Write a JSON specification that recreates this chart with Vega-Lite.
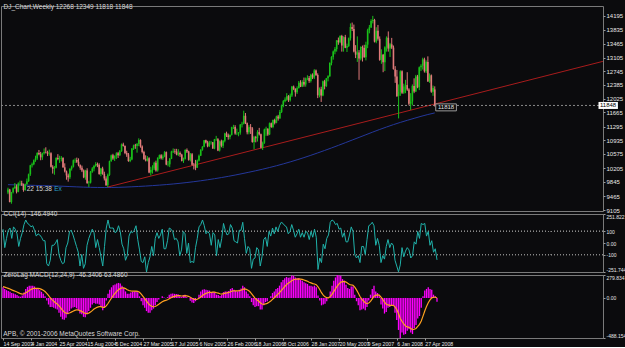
{
"$schema":"https://vega.github.io/schema/vega-lite/v6.json",
"background":"#0b0b0d",
"padding":{"left":0,"top":3,"right":0,"bottom":0},
"bounds":"flush",
"spacing":3,
"config":{
 "view":{"stroke":"#7a7a7a","strokeWidth":1},
 "axis":{"labelFont":"Liberation Sans Narrow, Liberation Sans, sans-serif","labelFontSize":6,"labelColor":"#e6e6e6","domain":false,"tickColor":"#9a9a9a","tickSize":2,"labelPadding":1,"grid":false,"title":null,"labelOverlap":false,"labelFlush":false,"labelBound":false,"tickCount":100},
 "title":{"font":"Liberation Sans Narrow, Liberation Sans, sans-serif","fontSize":6.5,"fontWeight":"normal","color":"#d8d8d8","anchor":"start","baseline":"top","offset":-4,"dx":3}
},
"datasets":{
"bars":[
{"d":"2003-09-14","o":9567,"h":9690,"l":9520,"c":9645,"k":120,"m":130,"s":138},
{"d":"2003-09-21","o":9645,"h":9660,"l":9305,"c":9313,"k":-40,"m":110,"s":132},
{"d":"2003-09-28","o":9313,"h":9580,"l":9270,"c":9572,"k":40,"m":95,"s":125},
{"d":"2003-10-05","o":9572,"h":9700,"l":9540,"c":9674,"k":110,"m":85,"s":117},
{"d":"2003-10-12","o":9674,"h":9812,"l":9660,"c":9721,"k":130,"m":75,"s":109},
{"d":"2003-10-19","o":9721,"h":9775,"l":9540,"c":9582,"k":40,"m":60,"s":99},
{"d":"2003-10-26","o":9582,"h":9830,"l":9570,"c":9801,"k":140,"m":55,"s":90},
{"d":"2003-11-02","o":9801,"h":9875,"l":9750,"c":9809,"k":120,"m":45,"s":81},
{"d":"2003-11-09","o":9809,"h":9872,"l":9735,"c":9768,"k":80,"m":35,"s":72},
{"d":"2003-11-16","o":9768,"h":9800,"l":9585,"c":9628,"k":-30,"m":20,"s":62},
{"d":"2003-11-23","o":9628,"h":9800,"l":9610,"c":9782,"k":40,"m":15,"s":52},
{"d":"2003-11-30","o":9782,"h":9930,"l":9770,"c":9862,"k":90,"m":30,"s":48},
{"d":"2003-12-07","o":9862,"h":10060,"l":9840,"c":10042,"k":160,"m":65,"s":51},
{"d":"2003-12-14","o":10042,"h":10290,"l":10000,"c":10278,"k":200,"m":110,"s":63},
{"d":"2003-12-21","o":10278,"h":10350,"l":10220,"c":10305,"k":170,"m":135,"s":77},
{"d":"2003-12-28","o":10305,"h":10430,"l":10280,"c":10409,"k":160,"m":150,"s":92},
{"d":"2004-01-04","o":10409,"h":10530,"l":10370,"c":10458,"k":140,"m":150,"s":103},
{"d":"2004-01-11","o":10458,"h":10620,"l":10420,"c":10600,"k":150,"m":150,"s":113},
{"d":"2004-01-18","o":10600,"h":10680,"l":10540,"c":10568,"k":110,"m":140,"s":118},
{"d":"2004-01-25","o":10568,"h":10630,"l":10410,"c":10488,"k":60,"m":120,"s":118},
{"d":"2004-02-01","o":10488,"h":10610,"l":10420,"c":10593,"k":80,"m":110,"s":117},
{"d":"2004-02-08","o":10593,"h":10720,"l":10560,"c":10628,"k":70,"m":95,"s":113},
{"d":"2004-02-15","o":10628,"h":10750,"l":10590,"c":10620,"k":50,"m":75,"s":105},
{"d":"2004-02-22","o":10620,"h":10660,"l":10520,"c":10584,"k":20,"m":50,"s":94},
{"d":"2004-02-29","o":10584,"h":10690,"l":10530,"c":10596,"k":20,"m":20,"s":79},
{"d":"2004-03-07","o":10596,"h":10620,"l":10220,"c":10240,"k":-180,"m":-30,"s":57},
{"d":"2004-03-14","o":10240,"h":10280,"l":10060,"c":10186,"k":-200,"m":-80,"s":30},
{"d":"2004-03-21","o":10186,"h":10260,"l":10030,"c":10212,"k":-150,"m":-110,"s":2},
{"d":"2004-03-28","o":10212,"h":10490,"l":10200,"c":10470,"k":-20,"m":-110,"s":-20},
{"d":"2004-04-04","o":10470,"h":10570,"l":10410,"c":10442,"k":-20,"m":-120,"s":-40},
{"d":"2004-04-11","o":10442,"h":10530,"l":10340,"c":10451,"k":0,"m":-130,"s":-58},
{"d":"2004-04-18","o":10451,"h":10520,"l":10380,"c":10472,"k":30,"m":-140,"s":-74},
{"d":"2004-04-25","o":10472,"h":10490,"l":10210,"c":10225,"k":-100,"m":-180,"s":-96},
{"d":"2004-05-02","o":10225,"h":10330,"l":10090,"c":10117,"k":-150,"m":-230,"s":-122},
{"d":"2004-05-09","o":10117,"h":10140,"l":9900,"c":10012,"k":-180,"m":-260,"s":-150},
{"d":"2004-05-16","o":10012,"h":10060,"l":9850,"c":9966,"k":-170,"m":-265,"s":-173},
{"d":"2004-05-23","o":9966,"h":10200,"l":9920,"c":10188,"k":-40,"m":-240,"s":-186},
{"d":"2004-05-30","o":10188,"h":10270,"l":10140,"c":10242,"k":0,"m":-200,"s":-189},
{"d":"2004-06-06","o":10242,"h":10430,"l":10220,"c":10410,"k":100,"m":-160,"s":-183},
{"d":"2004-06-13","o":10410,"h":10460,"l":10340,"c":10416,"k":110,"m":-130,"s":-173},
{"d":"2004-06-20","o":10416,"h":10480,"l":10340,"c":10371,"k":70,"m":-115,"s":-161},
{"d":"2004-06-27","o":10371,"h":10460,"l":10250,"c":10282,"k":20,"m":-110,"s":-151},
{"d":"2004-07-04","o":10282,"h":10300,"l":10160,"c":10213,"k":-30,"m":-125,"s":-146},
{"d":"2004-07-11","o":10213,"h":10270,"l":10100,"c":10140,"k":-80,"m":-150,"s":-147},
{"d":"2004-07-18","o":10140,"h":10170,"l":9940,"c":9962,"k":-200,"m":-190,"s":-155},
{"d":"2004-07-25","o":9962,"h":10160,"l":9900,"c":10140,"k":-100,"m":-200,"s":-164},
{"d":"2004-08-01","o":10140,"h":10200,"l":9790,"c":9815,"k":-220,"m":-230,"s":-177},
{"d":"2004-08-08","o":9815,"h":9870,"l":9710,"c":9825,"k":-180,"m":-235,"s":-189},
{"d":"2004-08-15","o":9825,"h":10130,"l":9800,"c":10110,"k":-20,"m":-200,"s":-191},
{"d":"2004-08-22","o":10110,"h":10230,"l":10080,"c":10195,"k":40,"m":-160,"s":-185},
{"d":"2004-08-29","o":10195,"h":10290,"l":10120,"c":10260,"k":80,"m":-120,"s":-172},
{"d":"2004-09-05","o":10260,"h":10360,"l":10240,"c":10314,"k":120,"m":-80,"s":-154},
{"d":"2004-09-12","o":10314,"h":10350,"l":10230,"c":10284,"k":90,"m":-60,"s":-135},
{"d":"2004-09-19","o":10284,"h":10330,"l":10030,"c":10047,"k":-40,"m":-70,"s":-122},
{"d":"2004-09-26","o":10047,"h":10210,"l":9990,"c":10192,"k":30,"m":-70,"s":-112},
{"d":"2004-10-03","o":10192,"h":10240,"l":10030,"c":10055,"k":-40,"m":-80,"s":-105},
{"d":"2004-10-10","o":10055,"h":10110,"l":9880,"c":9933,"k":-120,"m":-110,"s":-106},
{"d":"2004-10-17","o":9933,"h":9990,"l":9740,"c":9757,"k":-200,"m":-150,"s":-115},
{"d":"2004-10-24","o":9757,"h":10060,"l":9708,"c":10027,"k":-30,"m":-110,"s":-114},
{"d":"2004-10-31","o":10027,"h":10400,"l":10000,"c":10387,"k":130,"m":-30,"s":-97},
{"d":"2004-11-07","o":10387,"h":10560,"l":10370,"c":10539,"k":200,"m":50,"s":-68},
{"d":"2004-11-14","o":10539,"h":10580,"l":10420,"c":10456,"k":130,"m":100,"s":-34},
{"d":"2004-11-21","o":10456,"h":10540,"l":10390,"c":10522,"k":130,"m":130,"s":-1},
{"d":"2004-11-28","o":10522,"h":10620,"l":10440,"c":10592,"k":130,"m":155,"s":30},
{"d":"2004-12-05","o":10592,"h":10630,"l":10470,"c":10543,"k":90,"m":165,"s":57},
{"d":"2004-12-12","o":10543,"h":10680,"l":10520,"c":10649,"k":100,"m":175,"s":81},
{"d":"2004-12-19","o":10649,"h":10850,"l":10630,"c":10827,"k":150,"m":183,"s":101},
{"d":"2004-12-26","o":10827,"h":10870,"l":10770,"c":10783,"k":100,"m":175,"s":116},
{"d":"2005-01-02","o":10783,"h":10800,"l":10570,"c":10603,"k":-10,"m":150,"s":123},
{"d":"2005-01-09","o":10603,"h":10660,"l":10500,"c":10558,"k":-50,"m":120,"s":122},
{"d":"2005-01-16","o":10558,"h":10600,"l":10370,"c":10392,"k":-150,"m":80,"s":114},
{"d":"2005-01-23","o":10392,"h":10500,"l":10360,"c":10427,"k":-110,"m":50,"s":101},
{"d":"2005-01-30","o":10427,"h":10730,"l":10410,"c":10716,"k":60,"m":50,"s":91},
{"d":"2005-02-06","o":10716,"h":10820,"l":10680,"c":10796,"k":100,"m":65,"s":86},
{"d":"2005-02-13","o":10796,"h":10840,"l":10710,"c":10785,"k":90,"m":75,"s":84},
{"d":"2005-02-20","o":10785,"h":10860,"l":10610,"c":10841,"k":110,"m":80,"s":83},
{"d":"2005-02-27","o":10841,"h":10985,"l":10780,"c":10940,"k":150,"m":85,"s":83},
{"d":"2005-03-06","o":10940,"h":10960,"l":10740,"c":10774,"k":30,"m":70,"s":81},
{"d":"2005-03-13","o":10774,"h":10800,"l":10590,"c":10629,"k":-60,"m":20,"s":69},
{"d":"2005-03-20","o":10629,"h":10660,"l":10420,"c":10442,"k":-160,"m":-40,"s":47},
{"d":"2005-03-27","o":10442,"h":10540,"l":10380,"c":10404,"k":-170,"m":-90,"s":20},
{"d":"2005-04-03","o":10404,"h":10520,"l":10380,"c":10461,"k":-120,"m":-120,"s":-8},
{"d":"2005-04-10","o":10461,"h":10490,"l":10070,"c":10087,"k":-251.7,"m":-160,"s":-38},
{"d":"2005-04-17","o":10087,"h":10240,"l":10010,"c":10157,"k":-170,"m":-180,"s":-66},
{"d":"2005-04-24","o":10157,"h":10280,"l":10060,"c":10193,"k":-120,"m":-180,"s":-89},
{"d":"2005-05-01","o":10193,"h":10370,"l":10150,"c":10345,"k":-30,"m":-150,"s":-101},
{"d":"2005-05-08","o":10345,"h":10400,"l":10110,"c":10140,"k":-110,"m":-130,"s":-107},
{"d":"2005-05-15","o":10140,"h":10490,"l":10110,"c":10471,"k":40,"m":-90,"s":-104},
{"d":"2005-05-22","o":10471,"h":10560,"l":10440,"c":10542,"k":90,"m":-50,"s":-93},
{"d":"2005-05-29","o":10542,"h":10570,"l":10430,"c":10460,"k":40,"m":-20,"s":-78},
{"d":"2005-06-05","o":10460,"h":10560,"l":10420,"c":10512,"k":70,"m":0,"s":-62},
{"d":"2005-06-12","o":10512,"h":10650,"l":10490,"c":10623,"k":120,"m":20,"s":-46},
{"d":"2005-06-19","o":10623,"h":10640,"l":10280,"c":10297,"k":-50,"m":5,"s":-36},
{"d":"2005-06-26","o":10297,"h":10390,"l":10250,"c":10303,"k":-50,"m":-5,"s":-30},
{"d":"2005-07-03","o":10303,"h":10470,"l":10230,"c":10449,"k":20,"m":10,"s":-22},
{"d":"2005-07-10","o":10449,"h":10660,"l":10440,"c":10640,"k":130,"m":40,"s":-10},
{"d":"2005-07-17","o":10640,"h":10720,"l":10600,"c":10651,"k":120,"m":50,"s":2},
{"d":"2005-07-24","o":10651,"h":10710,"l":10580,"c":10641,"k":100,"m":55,"s":13},
{"d":"2005-07-31","o":10641,"h":10710,"l":10540,"c":10558,"k":30,"m":50,"s":20},
{"d":"2005-08-07","o":10558,"h":10700,"l":10520,"c":10600,"k":40,"m":48,"s":26},
{"d":"2005-08-14","o":10600,"h":10640,"l":10500,"c":10559,"k":10,"m":45,"s":30},
{"d":"2005-08-21","o":10559,"h":10580,"l":10380,"c":10397,"k":-110,"m":20,"s":28},
{"d":"2005-08-28","o":10397,"h":10480,"l":10340,"c":10447,"k":-60,"m":10,"s":24},
{"d":"2005-09-04","o":10447,"h":10700,"l":10430,"c":10679,"k":100,"m":35,"s":26},
{"d":"2005-09-11","o":10679,"h":10720,"l":10600,"c":10641,"k":80,"m":40,"s":29},
{"d":"2005-09-18","o":10641,"h":10660,"l":10400,"c":10420,"k":-90,"m":10,"s":25},
{"d":"2005-09-25","o":10420,"h":10600,"l":10380,"c":10569,"k":0,"m":0,"s":20},
{"d":"2005-10-02","o":10569,"h":10600,"l":10270,"c":10292,"k":-170,"m":-35,"s":9},
{"d":"2005-10-09","o":10292,"h":10340,"l":10170,"c":10287,"k":-160,"m":-55,"s":-4},
{"d":"2005-10-16","o":10287,"h":10420,"l":10150,"c":10215,"k":-170,"m":-60,"s":-15},
{"d":"2005-10-23","o":10215,"h":10430,"l":10210,"c":10402,"k":-40,"m":-40,"s":-20},
{"d":"2005-10-30","o":10402,"h":10560,"l":10380,"c":10530,"k":40,"m":0,"s":-16},
{"d":"2005-11-06","o":10530,"h":10700,"l":10520,"c":10686,"k":140,"m":40,"s":-5},
{"d":"2005-11-13","o":10686,"h":10780,"l":10660,"c":10766,"k":160,"m":80,"s":12},
{"d":"2005-11-20","o":10766,"h":10940,"l":10750,"c":10932,"k":200,"m":100,"s":30},
{"d":"2005-11-27","o":10932,"h":10950,"l":10850,"c":10877,"k":150,"m":105,"s":45},
{"d":"2005-12-04","o":10877,"h":10920,"l":10750,"c":10778,"k":80,"m":100,"s":56},
{"d":"2005-12-11","o":10778,"h":10920,"l":10760,"c":10875,"k":100,"m":95,"s":64},
{"d":"2005-12-18","o":10875,"h":10920,"l":10820,"c":10883,"k":80,"m":90,"s":69},
{"d":"2005-12-25","o":10883,"h":10890,"l":10710,"c":10718,"k":-20,"m":70,"s":69},
{"d":"2006-01-01","o":10718,"h":10970,"l":10700,"c":10959,"k":90,"m":75,"s":70},
{"d":"2006-01-08","o":10955,"h":11050,"l":10920,"c":10959,"k":70,"m":70,"s":70},
{"d":"2006-01-15","o":10959,"h":10990,"l":10650,"c":10667,"k":-110,"m":40,"s":64},
{"d":"2006-01-22","o":10667,"h":10930,"l":10640,"c":10907,"k":30,"m":35,"s":58},
{"d":"2006-01-29","o":10907,"h":10950,"l":10750,"c":10793,"k":-40,"m":25,"s":51},
{"d":"2006-02-05","o":10793,"h":10940,"l":10730,"c":10919,"k":40,"m":35,"s":48},
{"d":"2006-02-12","o":10919,"h":11130,"l":10880,"c":11115,"k":170,"m":70,"s":52},
{"d":"2006-02-19","o":11115,"h":11160,"l":11020,"c":11061,"k":110,"m":80,"s":58},
{"d":"2006-02-26","o":11061,"h":11110,"l":10950,"c":11021,"k":70,"m":80,"s":62},
{"d":"2006-03-05","o":11021,"h":11090,"l":10960,"c":11076,"k":80,"m":85,"s":67},
{"d":"2006-03-12","o":11076,"h":11290,"l":11060,"c":11279,"k":160,"m":110,"s":76},
{"d":"2006-03-19","o":11279,"h":11340,"l":11230,"c":11280,"k":130,"m":120,"s":85},
{"d":"2006-03-26","o":11280,"h":11330,"l":11080,"c":11109,"k":20,"m":100,"s":88},
{"d":"2006-04-02","o":11109,"h":11240,"l":11070,"c":11120,"k":10,"m":85,"s":87},
{"d":"2006-04-09","o":11120,"h":11150,"l":11040,"c":11137,"k":0,"m":80,"s":86},
{"d":"2006-04-16","o":11137,"h":11360,"l":11080,"c":11347,"k":110,"m":100,"s":89},
{"d":"2006-04-23","o":11347,"h":11420,"l":11270,"c":11367,"k":110,"m":115,"s":94},
{"d":"2006-04-30","o":11367,"h":11710,"l":11350,"c":11577,"k":180,"m":150,"s":105},
{"d":"2006-05-07","o":11577,"h":11650,"l":11360,"c":11380,"k":40,"m":130,"s":110},
{"d":"2006-05-14","o":11380,"h":11400,"l":11090,"c":11144,"k":-90,"m":80,"s":104},
{"d":"2006-05-21","o":11144,"h":11330,"l":11090,"c":11278,"k":-30,"m":50,"s":93},
{"d":"2006-05-28","o":11278,"h":11360,"l":11100,"c":11247,"k":-50,"m":20,"s":78},
{"d":"2006-06-04","o":11247,"h":11280,"l":10870,"c":10891,"k":-220,"m":-50,"s":52},
{"d":"2006-06-11","o":10891,"h":11050,"l":10700,"c":11014,"k":-140,"m":-90,"s":24},
{"d":"2006-06-18","o":11014,"h":11050,"l":10880,"c":10989,"k":-130,"m":-110,"s":-3},
{"d":"2006-06-25","o":10989,"h":11200,"l":10900,"c":11150,"k":-40,"m":-100,"s":-22},
{"d":"2006-07-02","o":11150,"h":11260,"l":11060,"c":11090,"k":-60,"m":-100,"s":-38},
{"d":"2006-07-09","o":11090,"h":11110,"l":10720,"c":10739,"k":-200,"m":-140,"s":-58},
{"d":"2006-07-16","o":10739,"h":10900,"l":10680,"c":10868,"k":-120,"m":-140,"s":-74},
{"d":"2006-07-23","o":10868,"h":11240,"l":10840,"c":11219,"k":30,"m":-90,"s":-77},
{"d":"2006-07-30","o":11219,"h":11290,"l":11050,"c":11240,"k":50,"m":-50,"s":-72},
{"d":"2006-08-06","o":11240,"h":11250,"l":11050,"c":11088,"k":-30,"m":-40,"s":-66},
{"d":"2006-08-13","o":11088,"h":11400,"l":11070,"c":11381,"k":100,"m":0,"s":-53},
{"d":"2006-08-20","o":11381,"h":11400,"l":11260,"c":11284,"k":60,"m":20,"s":-38},
{"d":"2006-08-27","o":11284,"h":11480,"l":11250,"c":11464,"k":130,"m":60,"s":-18},
{"d":"2006-09-03","o":11464,"h":11500,"l":11350,"c":11392,"k":80,"m":80,"s":2},
{"d":"2006-09-10","o":11392,"h":11580,"l":11380,"c":11560,"k":140,"m":110,"s":24},
{"d":"2006-09-17","o":11560,"h":11600,"l":11450,"c":11508,"k":100,"m":120,"s":43},
{"d":"2006-09-24","o":11508,"h":11730,"l":11500,"c":11679,"k":150,"m":150,"s":64},
{"d":"2006-10-01","o":11679,"h":11870,"l":11650,"c":11850,"k":180,"m":190,"s":89},
{"d":"2006-10-08","o":11850,"h":11990,"l":11800,"c":11960,"k":170,"m":220,"s":115},
{"d":"2006-10-15","o":11960,"h":12060,"l":11930,"c":12002,"k":150,"m":240,"s":140},
{"d":"2006-10-22","o":12002,"h":12170,"l":11970,"c":12090,"k":140,"m":255,"s":163},
{"d":"2006-10-29","o":12090,"h":12120,"l":11940,"c":11986,"k":80,"m":245,"s":179},
{"d":"2006-11-05","o":11986,"h":12160,"l":11950,"c":12108,"k":100,"m":250,"s":193},
{"d":"2006-11-12","o":12108,"h":12360,"l":12070,"c":12342,"k":160,"m":275,"s":210},
{"d":"2006-11-19","o":12342,"h":12370,"l":12250,"c":12280,"k":110,"m":270,"s":222},
{"d":"2006-11-26","o":12280,"h":12300,"l":12080,"c":12194,"k":50,"m":250,"s":228},
{"d":"2006-12-03","o":12194,"h":12350,"l":12150,"c":12307,"k":80,"m":240,"s":230},
{"d":"2006-12-10","o":12307,"h":12490,"l":12290,"c":12445,"k":120,"m":240,"s":232},
{"d":"2006-12-17","o":12445,"h":12510,"l":12330,"c":12343,"k":50,"m":220,"s":230},
{"d":"2006-12-24","o":12343,"h":12510,"l":12330,"c":12463,"k":90,"m":210,"s":226},
{"d":"2006-12-31","o":12463,"h":12580,"l":12340,"c":12398,"k":50,"m":190,"s":219},
{"d":"2007-01-07","o":12398,"h":12580,"l":12340,"c":12556,"k":100,"m":180,"s":211},
{"d":"2007-01-14","o":12556,"h":12640,"l":12510,"c":12565,"k":90,"m":170,"s":203},
{"d":"2007-01-21","o":12565,"h":12620,"l":12440,"c":12487,"k":30,"m":150,"s":192},
{"d":"2007-01-28","o":12487,"h":12680,"l":12450,"c":12653,"k":100,"m":150,"s":184},
{"d":"2007-02-04","o":12653,"h":12690,"l":12540,"c":12580,"k":50,"m":140,"s":175},
{"d":"2007-02-11","o":12580,"h":12800,"l":12540,"c":12767,"k":120,"m":150,"s":170},
{"d":"2007-02-18","o":12767,"h":12790,"l":12620,"c":12647,"k":50,"m":130,"s":162},
{"d":"2007-02-25","o":12647,"h":12690,"l":12040,"c":12114,"k":-230,"m":30,"s":136},
{"d":"2007-03-04","o":12114,"h":12320,"l":12060,"c":12276,"k":-130,"m":-30,"s":103},
{"d":"2007-03-11","o":12276,"h":12340,"l":11940,"c":12110,"k":-170,"m":-90,"s":64},
{"d":"2007-03-18","o":12110,"h":12500,"l":12090,"c":12481,"k":-10,"m":-80,"s":35},
{"d":"2007-03-25","o":12481,"h":12520,"l":12270,"c":12354,"k":-50,"m":-70,"s":14},
{"d":"2007-04-01","o":12354,"h":12570,"l":12330,"c":12560,"k":40,"m":-40,"s":3},
{"d":"2007-04-08","o":12560,"h":12640,"l":12480,"c":12612,"k":70,"m":0,"s":2},
{"d":"2007-04-15","o":12612,"h":12980,"l":12600,"c":12961,"k":180,"m":80,"s":18},
{"d":"2007-04-22","o":12961,"h":13140,"l":12900,"c":13120,"k":200,"m":150,"s":44},
{"d":"2007-04-29","o":13120,"h":13290,"l":13050,"c":13264,"k":190,"m":210,"s":77},
{"d":"2007-05-06","o":13264,"h":13380,"l":13190,"c":13326,"k":160,"m":250,"s":112},
{"d":"2007-05-13","o":13326,"h":13560,"l":13260,"c":13556,"k":170,"m":279.8,"s":145},
{"d":"2007-05-20","o":13556,"h":13630,"l":13440,"c":13507,"k":120,"m":275,"s":171},
{"d":"2007-05-27","o":13507,"h":13690,"l":13480,"c":13668,"k":130,"m":270,"s":191},
{"d":"2007-06-03","o":13668,"h":13700,"l":13260,"c":13424,"k":50,"m":230,"s":199},
{"d":"2007-06-10","o":13424,"h":13660,"l":13260,"c":13639,"k":90,"m":210,"s":201},
{"d":"2007-06-17","o":13639,"h":13700,"l":13350,"c":13360,"k":10,"m":160,"s":193},
{"d":"2007-06-24","o":13360,"h":13470,"l":13250,"c":13408,"k":10,"m":120,"s":178},
{"d":"2007-07-01","o":13408,"h":13630,"l":13380,"c":13611,"k":70,"m":110,"s":164},
{"d":"2007-07-08","o":13611,"h":14000,"l":13550,"c":13907,"k":140,"m":140,"s":159},
{"d":"2007-07-15","o":13907,"h":14022,"l":13800,"c":13851,"k":100,"m":140,"s":155},
{"d":"2007-07-22","o":13851,"h":13970,"l":13240,"c":13265,"k":-100,"m":40,"s":132},
{"d":"2007-07-29","o":13265,"h":13430,"l":13090,"c":13182,"k":-130,"m":-40,"s":98},
{"d":"2007-08-05","o":13182,"h":13660,"l":12990,"c":13240,"k":-110,"m":-90,"s":60},
{"d":"2007-08-12","o":13240,"h":13300,"l":12520,"c":13079,"k":-170,"m":-150,"s":18},
{"d":"2007-08-19","o":13079,"h":13400,"l":13030,"c":13379,"k":-30,"m":-140,"s":-14},
{"d":"2007-08-26","o":13379,"h":13420,"l":13000,"c":13358,"k":-30,"m":-130,"s":-37},
{"d":"2007-09-02","o":13358,"h":13440,"l":13100,"c":13114,"k":-100,"m":-150,"s":-60},
{"d":"2007-09-09","o":13114,"h":13520,"l":13030,"c":13443,"k":30,"m":-110,"s":-70},
{"d":"2007-09-16","o":13443,"h":13860,"l":13350,"c":13821,"k":150,"m":-30,"s":-62},
{"d":"2007-09-23","o":13821,"h":13960,"l":13740,"c":13896,"k":160,"m":40,"s":-42},
{"d":"2007-09-30","o":13896,"h":14110,"l":13880,"c":14066,"k":180,"m":110,"s":-11},
{"d":"2007-10-07","o":14066,"h":14198,"l":14000,"c":14093,"k":150,"m":150,"s":21},
{"d":"2007-10-14","o":14093,"h":14120,"l":13500,"c":13522,"k":-20,"m":80,"s":33},
{"d":"2007-10-21","o":13522,"h":13900,"l":13480,"c":13807,"k":40,"m":60,"s":38},
{"d":"2007-10-28","o":13807,"h":13960,"l":13550,"c":13596,"k":-20,"m":20,"s":34},
{"d":"2007-11-04","o":13596,"h":13660,"l":13020,"c":13043,"k":-170,"m":-80,"s":11},
{"d":"2007-11-11","o":13043,"h":13320,"l":12940,"c":13177,"k":-110,"m":-130,"s":-17},
{"d":"2007-11-18","o":13177,"h":13200,"l":12720,"c":12981,"k":-140,"m":-190,"s":-52},
{"d":"2007-11-25","o":12981,"h":13400,"l":12750,"c":13372,"k":-30,"m":-170,"s":-76},
{"d":"2007-12-02","o":13372,"h":13660,"l":13260,"c":13625,"k":30,"m":-120,"s":-85},
{"d":"2007-12-09","o":13625,"h":13790,"l":13260,"c":13339,"k":-40,"m":-110,"s":-90},
{"d":"2007-12-16","o":13339,"h":13490,"l":13120,"c":13451,"k":0,"m":-90,"s":-90},
{"d":"2007-12-23","o":13451,"h":13620,"l":13330,"c":13366,"k":-20,"m":-90,"s":-90},
{"d":"2007-12-30","o":13366,"h":13420,"l":12790,"c":12800,"k":-150,"m":-180,"s":-108},
{"d":"2008-01-06","o":12800,"h":12880,"l":12440,"c":12606,"k":-200,"m":-270,"s":-140},
{"d":"2008-01-13","o":12606,"h":12780,"l":12070,"c":12099,"k":-250,"m":-390,"s":-190},
{"d":"2008-01-20","o":12099,"h":12400,"l":11508,"c":12207,"k":-190,"m":-488,"s":-250},
{"d":"2008-01-27","o":12207,"h":12770,"l":12100,"c":12743,"k":-40,"m":-420,"s":-284},
{"d":"2008-02-03","o":12743,"h":12770,"l":12150,"c":12182,"k":-120,"m":-450,"s":-317},
{"d":"2008-02-10","o":12182,"h":12420,"l":12150,"c":12348,"k":-70,"m":-440,"s":-342},
{"d":"2008-02-17","o":12348,"h":12520,"l":12170,"c":12381,"k":-40,"m":-400,"s":-353},
{"d":"2008-02-24","o":12381,"h":12720,"l":12230,"c":12266,"k":-60,"m":-380,"s":-359},
{"d":"2008-03-02","o":12266,"h":12300,"l":11850,"c":11894,"k":-130,"m":-420,"s":-371},
{"d":"2008-03-09","o":11894,"h":12170,"l":11731,"c":11951,"k":-110,"m":-440,"s":-385},
{"d":"2008-03-16","o":11951,"h":12400,"l":11850,"c":12361,"k":10,"m":-370,"s":-382},
{"d":"2008-03-23","o":12361,"h":12560,"l":12170,"c":12216,"k":-10,"m":-330,"s":-372},
{"d":"2008-03-30","o":12216,"h":12650,"l":12200,"c":12609,"k":100,"m":-250,"s":-347},
{"d":"2008-04-06","o":12609,"h":12650,"l":12300,"c":12325,"k":40,"m":-220,"s":-322},
{"d":"2008-04-13","o":12325,"h":12870,"l":12250,"c":12849,"k":170,"m":-120,"s":-281},
{"d":"2008-04-20","o":12849,"h":12930,"l":12750,"c":12891,"k":160,"m":20,"s":-221},
{"d":"2008-04-27","o":12891,"h":13100,"l":12790,"c":13058,"k":170,"m":90,"s":-159},
{"d":"2008-05-04","o":13058,"h":13100,"l":12710,"c":12745,"k":60,"m":110,"s":-105},
{"d":"2008-05-11","o":12745,"h":13030,"l":12700,"c":12986,"k":100,"m":130,"s":-58},
{"d":"2008-05-18","o":12986,"h":13136,"l":12470,"c":12479,"k":-20,"m":110,"s":-24},
{"d":"2008-05-25","o":12479,"h":12690,"l":12440,"c":12638,"k":20,"m":100,"s":1},
{"d":"2008-06-01","o":12638,"h":12660,"l":12180,"c":12209,"k":-80,"m":40,"s":9},
{"d":"2008-06-08","o":12209,"h":12370,"l":12100,"c":12307,"k":-50,"m":20,"s":11},
{"d":"2008-06-15","o":12268,"h":12349,"l":11818,"c":11848,"k":-146.5,"m":-46.3,"s":0}
],
"ma":[
{"d":"2003-09-14","p":9770},{"d":"2003-10-12","p":9765},{"d":"2003-11-09","p":9760},{"d":"2003-12-07","p":9755},
{"d":"2004-01-04","p":9750},{"d":"2004-02-01","p":9745},{"d":"2004-02-29","p":9740},{"d":"2004-03-28","p":9735},
{"d":"2004-04-25","p":9728},{"d":"2004-05-23","p":9720},{"d":"2004-06-20","p":9712},{"d":"2004-07-18","p":9705},
{"d":"2004-08-15","p":9700},{"d":"2004-09-12","p":9697},{"d":"2004-10-10","p":9695},{"d":"2004-11-07","p":9696},
{"d":"2004-12-05","p":9700},{"d":"2005-01-02","p":9706},{"d":"2005-01-30","p":9714},{"d":"2005-02-27","p":9723},
{"d":"2005-03-27","p":9733},{"d":"2005-04-24","p":9745},{"d":"2005-05-22","p":9758},{"d":"2005-06-19","p":9772},
{"d":"2005-07-17","p":9788},{"d":"2005-08-14","p":9806},{"d":"2005-09-11","p":9826},{"d":"2005-10-09","p":9848},
{"d":"2005-11-06","p":9872},{"d":"2005-12-04","p":9898},{"d":"2006-01-01","p":9926},{"d":"2006-01-29","p":9956},
{"d":"2006-02-26","p":9988},{"d":"2006-03-26","p":10022},{"d":"2006-04-23","p":10058},{"d":"2006-05-21","p":10096},
{"d":"2006-06-18","p":10135},{"d":"2006-07-16","p":10176},{"d":"2006-08-13","p":10220},{"d":"2006-09-10","p":10266},
{"d":"2006-10-08","p":10315},{"d":"2006-11-05","p":10367},{"d":"2006-12-03","p":10422},{"d":"2006-12-31","p":10480},
{"d":"2007-01-28","p":10540},{"d":"2007-02-25","p":10603},{"d":"2007-03-25","p":10667},{"d":"2007-04-22","p":10733},
{"d":"2007-05-20","p":10801},{"d":"2007-06-17","p":10870},{"d":"2007-07-15","p":10940},{"d":"2007-08-12","p":11010},
{"d":"2007-09-09","p":11080},{"d":"2007-10-07","p":11150},{"d":"2007-11-04","p":11218},{"d":"2007-12-02","p":11283},
{"d":"2007-12-30","p":11345},{"d":"2008-01-27","p":11403},{"d":"2008-02-24","p":11458},{"d":"2008-03-23","p":11510},
{"d":"2008-04-20","p":11562},{"d":"2008-05-18","p":11610},{"d":"2008-06-15","p":11652}
],
"trend":[{"d":"2004-10-24","p":9708},{"d":"2010-04-30","p":13005}]
},
"vconcat":[
{
 "width":602,"height":205,
 "title":{"text":"DJ_Chart,Weekly  12268 12349 11818 11848"},
 "data":{"values":[{}]},
 "layer":[
  {"data":{"name":"ma"},"mark":{"type":"line","color":"#24379a","strokeWidth":1},
   "encoding":{"x":{"field":"d","type":"temporal","scale":{"type":"utc","domain":[{"year":2003,"month":9,"date":6,"utc":true},{"year":2010,"month":4,"date":10,"utc":true}]},"axis":null},
    "y":{"field":"p","type":"quantitative","scale":{"domain":[9079,14457],"nice":false,"zero":false},"axis":{"orient":"right","tickCount":100,"labelOverlap":false,"values":[14195,13835,13465,13105,12745,12385,12025,11665,11295,10935,10575,10205,9845,9465,9105],"format":"d"}}}},
  {"data":{"name":"trend"},"mark":{"type":"line","color":"#a81c1c","strokeWidth":1,"clip":true},
   "encoding":{"x":{"field":"d","type":"temporal"},"y":{"field":"p","type":"quantitative"}}},
  {"mark":{"type":"rule","color":"#8a8a8a","strokeDash":[2,2],"strokeWidth":1},
   "encoding":{"y":{"datum":11848,"type":"quantitative"}}},
  {"data":{"name":"bars"},"mark":{"type":"rule","strokeWidth":1},
   "encoding":{"x":{"field":"d","type":"temporal"},"y":{"field":"l","type":"quantitative"},"y2":{"field":"h"},
    "color":{"condition":{"test":"datum.c >= datum.o","value":"#19c019"},"value":"#e07a7a"}}},
  {"data":{"name":"bars"},"mark":{"type":"bar","width":1.6},
   "encoding":{"x":{"field":"d","type":"temporal"},"y":{"field":"o","type":"quantitative"},"y2":{"field":"c"},
    "color":{"condition":{"test":"datum.c >= datum.o","value":"#19c019"},"value":"#e07a7a"}}},
  {"mark":{"type":"rect","fill":"#0b0b0d","stroke":"#9a9a9a","strokeWidth":1,"clip":false},
   "encoding":{"x":{"datum":{"year":2008,"month":6,"date":19,"utc":true},"type":"temporal"},"x2":{"datum":{"year":2008,"month":9,"date":11,"utc":true}},
    "y":{"datum":11706,"type":"quantitative"},"y2":{"datum":11889}}},
  {"mark":{"type":"text","color":"#e0e0e0","font":"Liberation Sans Narrow, Liberation Sans, sans-serif","fontSize":6,"align":"center","baseline":"middle","clip":false},
   "encoding":{"x":{"datum":{"year":2008,"month":7,"date":31,"utc":true},"type":"temporal"},"y":{"datum":11798,"type":"quantitative"},"text":{"value":"11818"}}},
  {"mark":{"type":"rect","fill":"#ffffff","clip":false},
   "encoding":{"x":{"datum":{"year":2010,"month":4,"date":12,"utc":true},"type":"temporal"},"x2":{"datum":{"year":2010,"month":6,"date":30,"utc":true}},
    "y":{"datum":11756,"type":"quantitative"},"y2":{"datum":11940}}},
  {"mark":{"type":"text","color":"#000000","font":"Liberation Sans Narrow, Liberation Sans, sans-serif","fontSize":6,"align":"center","baseline":"middle","clip":false},
   "encoding":{"x":{"datum":{"year":2010,"month":5,"date":21,"utc":true},"type":"temporal"},"y":{"datum":11848,"type":"quantitative"},"text":{"value":"11848"}}},
  {"mark":{"type":"text","color":"#d8d8d8","font":"Liberation Sans Narrow, Liberation Sans, sans-serif","fontSize":6.5,"align":"left","baseline":"middle"},
   "encoding":{"x":{"datum":{"year":2003,"month":11,"date":29,"utc":true},"type":"temporal"},"y":{"datum":9663,"type":"quantitative"},"text":{"value":"22 15:38"}}},
  {"mark":{"type":"text","color":"#2aa0c8","font":"Liberation Sans Narrow, Liberation Sans, sans-serif","fontSize":6.5,"align":"left","baseline":"middle"},
   "encoding":{"x":{"datum":{"year":2004,"month":3,"date":20,"utc":true},"type":"temporal"},"y":{"datum":9663,"type":"quantitative"},"text":{"value":"Ex"}}}
 ]
},
{
 "width":602,"height":58,
 "title":{"text":"CCI(14) -146.4940"},
 "data":{"name":"bars"},
 "layer":[
  {"mark":{"type":"rule","color":"#8a8a8a","strokeDash":[1,2],"strokeWidth":1},
   "encoding":{"y":{"datum":100,"type":"quantitative","scale":{"domain":[-251.744,251.822],"nice":false,"zero":false},
     "axis":{"orient":"right","tickCount":100,"labelOverlap":false,"labelFontSize":5,
      "labelBaseline":{"condition":[{"test":"datum.value > 200","value":"top"},{"test":"datum.value < -200","value":"bottom"}],"value":"middle"},
      "values":[251.822,100,0,-100,-251.744],"labelExpr":"datum.value > 200 ? '251.822' : datum.value < -200 ? '-251.744' : datum.value > 50 ? '100' : datum.value < -50 ? '-100' : '0.00'"}}}},
  {"mark":{"type":"rule","color":"#8a8a8a","strokeDash":[1,2],"strokeWidth":1},
   "encoding":{"y":{"datum":-100,"type":"quantitative"}}},
  {"mark":{"type":"line","color":"#20b2aa","strokeWidth":1},
   "encoding":{"x":{"field":"d","type":"temporal","scale":{"type":"utc","domain":[{"year":2003,"month":9,"date":6,"utc":true},{"year":2010,"month":4,"date":10,"utc":true}]},"axis":null},
    "y":{"field":"k","type":"quantitative"}}}
 ]
},
{
 "width":602,"height":63,
 "title":{"text":"ZeroLag MACD(12,24,9) -46.3406 63.4860"},
 "data":{"name":"bars"},
 "layer":[
  {"mark":{"type":"rule","color":"#ff00ff","strokeWidth":1.3},
   "encoding":{"x":{"field":"d","type":"temporal","scale":{"type":"utc","domain":[{"year":2003,"month":9,"date":6,"utc":true},{"year":2010,"month":4,"date":10,"utc":true}]},
     "axis":{"orient":"bottom","tickCount":100,"labelOverlap":false,"format":"%-d %b %Y","labelAlign":"left","labelPadding":1,"tickSize":2,"labelFontSize":5.2,
      "values":[{"year":2003,"month":9,"date":14,"utc":true},{"year":2004,"month":1,"date":4,"utc":true},{"year":2004,"month":4,"date":25,"utc":true},{"year":2004,"month":8,"date":15,"utc":true},{"year":2004,"month":12,"date":5,"utc":true},{"year":2005,"month":3,"date":27,"utc":true},{"year":2005,"month":7,"date":17,"utc":true},{"year":2005,"month":11,"date":6,"utc":true},{"year":2006,"month":2,"date":26,"utc":true},{"year":2006,"month":6,"date":18,"utc":true},{"year":2006,"month":10,"date":8,"utc":true},{"year":2007,"month":1,"date":28,"utc":true},{"year":2007,"month":5,"date":20,"utc":true},{"year":2007,"month":9,"date":9,"utc":true},{"year":2008,"month":1,"date":6,"utc":true},{"year":2008,"month":4,"date":27,"utc":true}]}},
    "y":{"field":"m","type":"quantitative","scale":{"domain":[-488.154,279.834],"nice":false,"zero":false},
     "axis":{"orient":"right","tickCount":100,"labelOverlap":false,"labelFontSize":5,
      "labelBaseline":{"condition":[{"test":"datum.value > 200","value":"top"},{"test":"datum.value < -200","value":"bottom"}],"value":"middle"},
      "values":[279.834,0,-488.154],"labelExpr":"datum.value > 200 ? '279.834' : datum.value < -200 ? '-488.154' : '0.00'"}},
    "y2":{"datum":0}}},
  {"mark":{"type":"line","color":"#ffa020","strokeWidth":1.2},
   "encoding":{"x":{"field":"d","type":"temporal"},"y":{"field":"s","type":"quantitative"}}},
  {"data":{"values":[{}]},"mark":{"type":"text","color":"#d8d8d8","font":"Liberation Sans Narrow, Liberation Sans, sans-serif","fontSize":6.5,"align":"left","baseline":"middle","dx":2},
   "encoding":{"x":{"datum":{"year":2003,"month":9,"date":7,"utc":true},"type":"temporal"},"y":{"datum":-440,"type":"quantitative"},"text":{"value":"APB, © 2001-2006 MetaQuotes Software Corp."}}}
 ]
}
]
}
